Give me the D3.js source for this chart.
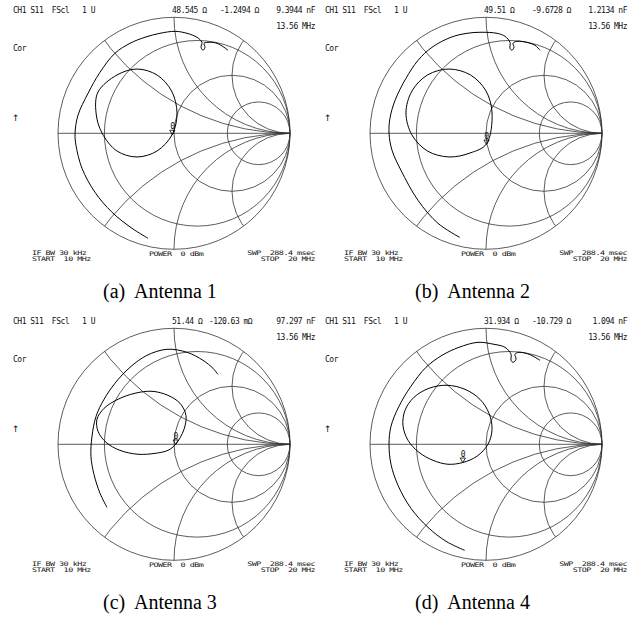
<!DOCTYPE html>
<html><head><meta charset="utf-8">
<script src="https://cdn.jsdelivr.net/npm/d3@7"></script>
<style>
body{margin:0;background:#fff}
svg{display:block}
.m{font-family:"DejaVu Sans Mono",monospace;font-size:8px;letter-spacing:-0.5px;fill:#111;white-space:pre}
.ar{font-family:"DejaVu Sans",sans-serif;font-size:9px;fill:#111}
.cap{font-family:"Liberation Serif","Times New Roman",serif;font-size:20px;fill:#000;white-space:pre}
</style>
</head><body>
<svg id="chart" width="635" height="617"></svg>
<script>
// ---------------- data ----------------
const captions = ["(a)  Antenna 1", "(b)  Antenna 2", "(c)  Antenna 3", "(d)  Antenna 4"];
const z0 = 50;
const markerR = [48.545, 49.51, 51.44, 31.934];          // ohm
const markerX = [-1.2494, -9.6728, -0.12063, -10.729];   // ohm
const rLabels = ["48.545 Ω", "49.51 Ω", "51.44 Ω", "31.934 Ω"];
const xLabels = ["-1.2494 Ω", "-9.6728 Ω", "-120.63 mΩ", "-10.729 Ω"];
const cLabels = ["9.3944 nF", "1.2134 nF", "97.297 nF", "1.094 nF"];
const freqLabel = "13.56 MHz";
const headLabel = "CH1 S11  FScl   1 U";
const resistanceCircles = [0.25, 1, 2.7];
const reactanceArcs = [0.5, 1, 2, -0.5, -1, -2];

// traces as reflection coefficient (re, im)
const arcA = [[-0.224,-0.905],[-0.362,-0.819],[-0.534,-0.681],[-0.681,-0.509],[-0.793,-0.302],[-0.845,-0.103],[-0.853,0],[-0.828,0.155],[-0.741,0.345],[-0.638,0.526],[-0.509,0.690],[-0.379,0.776],[-0.250,0.828],[-0.121,0.862],[0.009,0.879],[0.112,0.862],[0.198,0.828],[0.241,0.784],[0.233,0.741],[0.250,0.716],[0.267,0.741],[0.259,0.776],[0.284,0.784],[0.371,0.776],[0.466,0.716]];
const loopA = [[-0.015,-0.010],[0.026,0.175],[-0.021,0.365],[-0.147,0.503],[-0.319,0.554],[-0.491,0.503],[-0.655,0.356],[-0.672,0.175],[-0.621,0.003],[-0.491,-0.153],[-0.319,-0.204],[-0.147,-0.153]];
const arcB = [[-0.227,-0.897],[-0.414,-0.776],[-0.586,-0.578],[-0.733,-0.319],[-0.810,-0.147],[-0.836,0],[-0.828,0.129],[-0.784,0.284],[-0.690,0.474],[-0.586,0.629],[-0.466,0.741],[-0.302,0.828],[-0.164,0.862],[-0.043,0.871],[0.095,0.862],[0.164,0.836],[0.207,0.784],[0.207,0.733],[0.224,0.716],[0.241,0.741],[0.233,0.776],[0.267,0.793],[0.353,0.784],[0.422,0.759],[0.466,0.716]];
const loopB = [[0.052,0.175],[0,0.365],[-0.134,0.503],[-0.319,0.554],[-0.504,0.503],[-0.638,0.365],[-0.690,0.175],[-0.638,-0.015],[-0.504,-0.153],[-0.319,-0.204],[-0.138,-0.170],[0.004,-0.092]];
const arcC = [[-0.578,-0.543],[-0.638,-0.422],[-0.690,-0.259],[-0.716,-0.103],[-0.707,0.069],[-0.672,0.241],[-0.603,0.388],[-0.509,0.526],[-0.379,0.664],[-0.233,0.767],[-0.060,0.819],[0.112,0.793],[0.250,0.724],[0.336,0.655],[0.379,0.603]];
const loopC = [[0.014,0],[0.086,0.129],[0.103,0.250],[0.052,0.353],[-0.052,0.422],[-0.190,0.457],[-0.336,0.440],[-0.483,0.388],[-0.603,0.310],[-0.664,0.216],[-0.655,0.112],[-0.586,0.017],[-0.466,-0.052],[-0.310,-0.086],[-0.164,-0.078],[-0.052,-0.052]];
const arcD = [[-0.184,-0.914],[-0.345,-0.836],[-0.500,-0.716],[-0.647,-0.552],[-0.759,-0.353],[-0.819,-0.172],[-0.836,0],[-0.819,0.155],[-0.750,0.328],[-0.647,0.500],[-0.517,0.664],[-0.379,0.767],[-0.233,0.836],[-0.069,0.879],[0.069,0.862],[0.164,0.836],[0.216,0.776],[0.216,0.724],[0.233,0.707],[0.259,0.733],[0.250,0.776],[0.284,0.793],[0.371,0.776],[0.466,0.724]];
const loopD = [[-0.2,-0.157],[-0.078,-0.103],[0.017,0],[0.052,0.129],[0.026,0.267],[-0.052,0.388],[-0.181,0.474],[-0.336,0.509],[-0.491,0.483],[-0.621,0.405],[-0.698,0.293],[-0.716,0.164],[-0.672,0.034],[-0.578,-0.069],[-0.457,-0.138],[-0.328,-0.172]];
const arcs = [arcA, arcB, arcC, arcD];
const loops = [loopA, loopB, loopC, loopD];

// ---------------- layout ----------------
const offsets = [[0,0],[312,0],[0,311],[312,311]];
const CX = 174, CY = 133.3, RAD = 116;

const svg = d3.select("#chart");

function gamma(r, x){ // normalized impedance -> reflection coefficient
  const dr = (r+1)*(r+1) + x*x;
  return [((r*r + x*x) - 1)/dr, (2*x)/dr];
}

offsets.forEach((off, i) => {
  const g = svg.append("g").attr("transform", `translate(${off[0]},${off[1]})`);
  const sx = d3.scaleLinear().domain([-1,1]).range([CX-RAD, CX+RAD]);
  const sy = d3.scaleLinear().domain([-1,1]).range([CY+RAD, CY-RAD]);
  const k = sx(1) - sx(0);

  const clipId = "clip" + i;
  g.append("clipPath").attr("id", clipId)
    .append("circle").attr("cx", sx(0)).attr("cy", sy(0)).attr("r", k);

  const grid = g.append("g").attr("fill","none").attr("stroke","#333").attr("stroke-width",0.8);
  grid.append("circle").attr("cx", sx(0)).attr("cy", sy(0)).attr("r", k);
  grid.append("line").attr("x1", sx(-1)).attr("x2", sx(1)).attr("y1", sy(0)).attr("y2", sy(0));
  grid.selectAll(".rc").data(resistanceCircles).join("circle")
    .attr("cx", r => sx(r/(1+r))).attr("cy", sy(0)).attr("r", r => k/(1+r));
  grid.append("g").attr("clip-path", `url(#${clipId})`)
    .selectAll("circle").data(reactanceArcs).join("circle")
    .attr("cx", sx(1)).attr("cy", x => sy(1/x)).attr("r", x => k/Math.abs(x));

  // traces
  const line = d3.line().x(d => sx(d[0])).y(d => sy(d[1])).curve(d3.curveCatmullRom.alpha(0.5));
  const lineC = d3.line().x(d => sx(d[0])).y(d => sy(d[1])).curve(d3.curveCatmullRomClosed.alpha(0.5));
  const tr = g.append("g").attr("fill","none").attr("stroke","#000").attr("stroke-width",1.0).attr("stroke-linejoin","round");
  tr.append("path").attr("d", line(arcs[i]));
  tr.append("path").attr("d", lineC(loops[i]));

  // marker at 13.56 MHz
  const gm = gamma(markerR[i]/z0, markerX[i]/z0);
  const mx = sx(gm[0]), my = sy(gm[1]);
  g.append("path").attr("d", `M${mx},${my} L${mx-2.6},${my-4.5} L${mx+2.6},${my-4.5} Z`)
    .attr("fill","none").attr("stroke","#000").attr("stroke-width",0.8);
  g.append("text").attr("class","m").attr("x", mx).attr("y", my-5.5)
    .attr("text-anchor","middle").text("0");

  // instrument annotations
  const t = (x, y, s, anchor) => g.append("text").attr("class","m").attr("x",x).attr("y",y)
      .attr("text-anchor", anchor || "start").text(s);
  t(13, 13, headLabel);
  t(172, 13, rLabels[i]);
  t(i===2 ? 209 : 220, 13, xLabels[i]);
  t(315, 13, cLabels[i], "end");
  t(315, 29, freqLabel, "end");
  t(13, 51, "Cor");
  g.append("text").attr("class","ar").attr("x",12).attr("y",121).text("↑");
  const tb = (x, y, s, anchor) => g.append("text").attr("class","m")
      .attr("transform", `translate(${x},${y}) scale(1.05,0.78)`)
      .attr("text-anchor", anchor || "start").text(s);
  tb(32, 254.5, "IF BW 30 kHz");
  tb(32, 261, "START  10 MHz");
  tb(149, 256, "POWER  0 dBm");
  tb(315, 254.5, "SWP  288.4 msec", "end");
  tb(315, 261, "STOP  20 MHz", "end");

  g.append("text").attr("class","cap").attr("x", 103).attr("y", 298).text(captions[i]);
});
</script>
</body></html>
